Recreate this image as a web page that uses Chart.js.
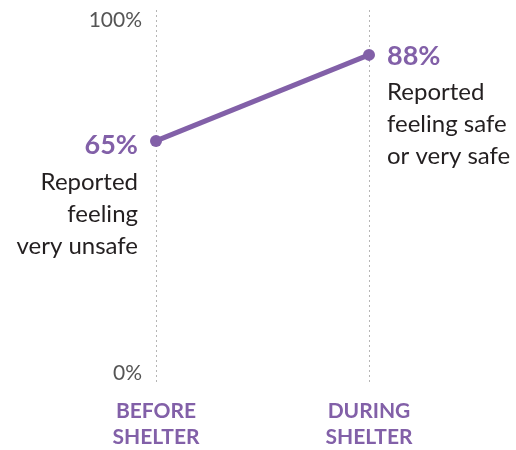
<!DOCTYPE html>
<html><head><meta charset="utf-8">
<script src="https://cdn.jsdelivr.net/npm/chart.js@4"></script>
<style>html,body{margin:0;padding:0;background:#fff}#wrap{width:516px;height:450px}</style>
</head><body><div id="wrap"><canvas id="c"></canvas></div>
<script>
const categories = [["BEFORE","SHELTER"],["DURING","SHELTER"]];
const values = [65, 88];
const valueLabels = ["65%", "88%"];
const notes = [["Reported","feeling","very unsafe"],["Reported","feeling safe","or very safe"]];
const yTickValues = [0, 100];
const yTickLabels = ["0%", "100%"];

const PURPLE = "#8260a8";
const FONT = "Lato, 'Open Sans', sans-serif";

const annot = {
  id: "annot",
  afterDraw(chart) {
    const ctx = chart.ctx, xs = chart.scales.x, ys = chart.scales.y;
    ctx.save();
    ctx.fillStyle = "#555";
    ctx.font = "21px " + FONT;
    ctx.textAlign = "right";
    ctx.textBaseline = "middle";
    yTickValues.forEach((v, i) => {
      const py = ys.getPixelForValue(v) + (v === 100 ? 10 : -11);
      ctx.fillText(yTickLabels[i], xs.getPixelForValue(0) - 14, py);
    });
    ctx.fillStyle = PURPLE;
    ctx.font = "bold 21px " + FONT;
    ctx.textAlign = "center";
    categories.forEach((lines, i) => {
      const px = xs.getPixelForValue(i);
      lines.forEach((t, j) => ctx.fillText(t, px, 411 + j * 26));
    });
    values.forEach((v, i) => {
      const px = xs.getPixelForValue(i), py = ys.getPixelForValue(v);
      const left = i === 0;
      ctx.textAlign = left ? "right" : "left";
      const tx = left ? px - 18 : px + 18;
      ctx.fillStyle = PURPLE;
      ctx.font = "bold 27px " + FONT;
      ctx.fillText(valueLabels[i], tx, py + (left ? 4 : 1));
      ctx.fillStyle = "#231f20";
      ctx.font = "24px " + FONT;
      const start = py + (left ? 41 : 37);
      notes[i].forEach((t, j) => ctx.fillText(t, tx, start + j * 32));
    });
    ctx.restore();
  }
};

new Chart(document.getElementById("c"), {
  type: "line",
  data: {
    labels: categories,
    datasets: [{
      data: values,
      borderColor: PURPLE,
      backgroundColor: PURPLE,
      borderWidth: 5,
      pointRadius: 6,
      pointHoverRadius: 6,
      pointBorderWidth: 0,
      clip: false
    }]
  },
  options: {
    responsive: true,
    maintainAspectRatio: false,
    animation: false,
    events: [],
    layout: { padding: { top: 10, bottom: 66, left: 49.5, right: 40.5 } },
    plugins: { legend: { display: false }, tooltip: { enabled: false } },
    scales: {
      x: {
        offset: true,
        border: { display: false, dash: [2, 3] },
        grid: { offset: false, drawTicks: false, color: "#b5b5b5", lineWidth: 1 },
        ticks: { display: false }
      },
      y: {
        min: 0, max: 100,
        border: { display: false },
        grid: { display: false, drawTicks: false },
        ticks: { display: false }
      }
    }
  },
  plugins: [annot]
});
</script></body></html>
